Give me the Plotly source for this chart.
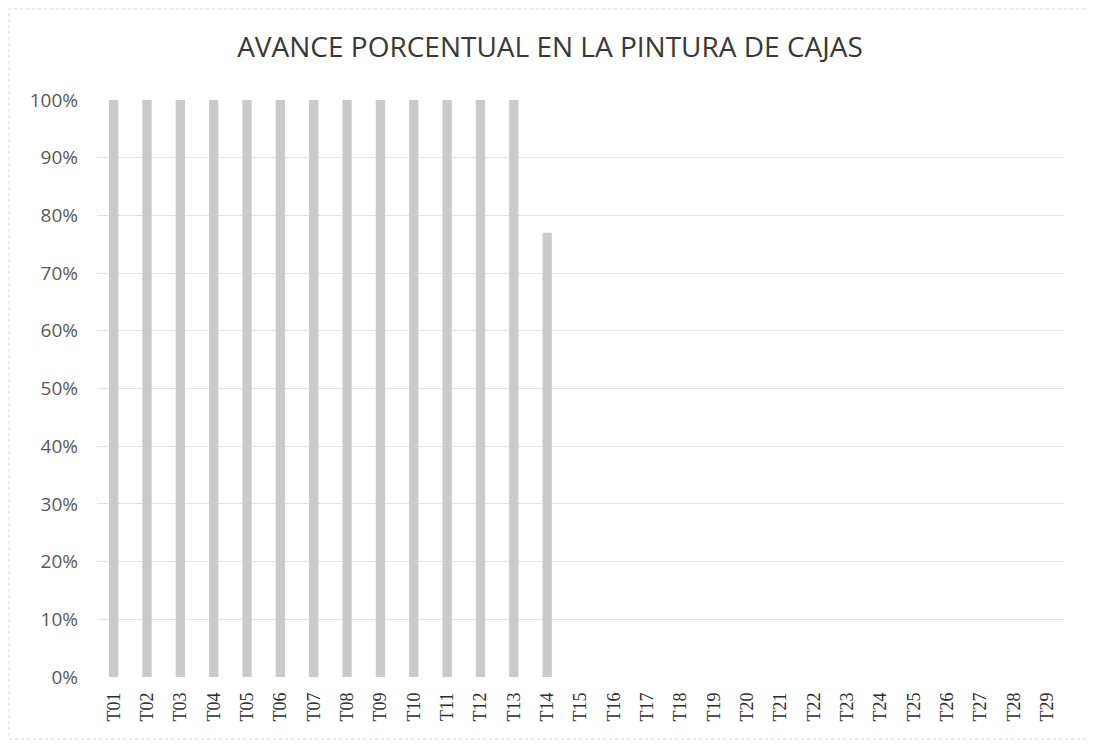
import plotly.graph_objects as go

categories = [f"T{i:02d}" for i in range(1, 30)]
values = [1.0] * 13 + [0.77] + [0.0] * 15

W, H = 1094, 749
# page body has an 8px margin; margins compensate so the plot lands where the reference is
L, R, T, B = 89, 38, 92, 80
pw, ph = W - L - R, H - T - B

fig = go.Figure(go.Bar(
    x=categories, y=values,
    marker=dict(color="#cacaca", line=dict(width=0)),
))

def px2paper_x(px):
    return (px - L) / pw

def px2paper_y(py):
    return (H - B - py) / ph

fig.add_shape(type="rect", xref="paper", yref="paper",
              x0=px2paper_x(1), x1=px2paper_x(1083),
              y0=px2paper_y(731), y1=px2paper_y(1),
              line=dict(color="#d9d9d9", width=1, dash="dot"), layer="below")

fig.update_layout(
    width=W, height=H,
    margin=dict(l=L, r=R, t=T, b=B),
    paper_bgcolor="white", plot_bgcolor="white",
    bargap=0.72,
    showlegend=False,
    title=dict(text="AVANCE PORCENTUAL EN LA PINTURA DE CAJAS",
               x=(550 - 8) / W, xref="container", xanchor="center",
               y=1 - 39 / H, yref="container", yanchor="middle",
               font=dict(family="Open Sans", size=28, color="#383838")),
    xaxis=dict(tickangle=-90, showgrid=False, showline=False, zeroline=False,
               ticks="", ticklabelstandoff=11,
               tickfont=dict(family="Liberation Serif", size=18, color="#2e2e2e")),
    yaxis=dict(range=[0, 1], tickvals=[i / 10 for i in range(11)], tickformat=".0%",
               showgrid=True, gridcolor="#e3e3e3", gridwidth=1, zeroline=False,
               showline=False, ticks="", ticklen=0, ticklabelstandoff=18,
               tickfont=dict(family="Open Sans", size=19, color="#595959")),
)

fig.write_html("out.html")
